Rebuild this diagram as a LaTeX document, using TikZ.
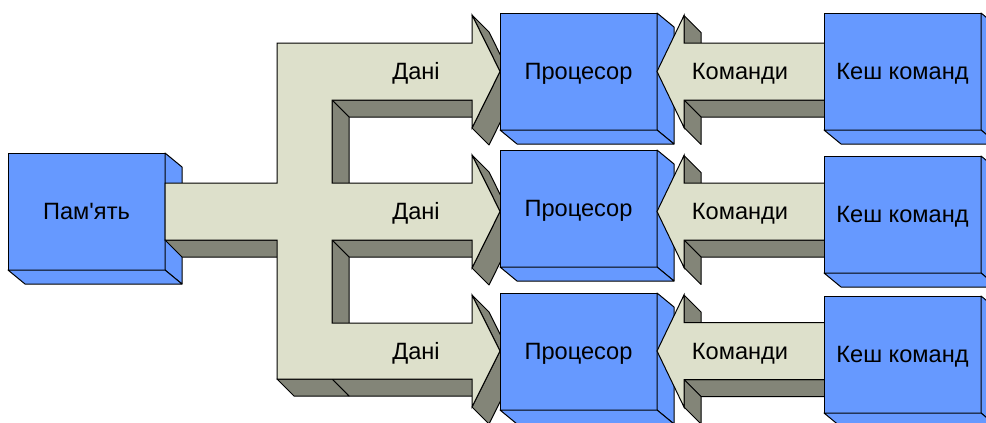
\documentclass[tikz,border=0pt]{standalone}
\usepackage{fontspec}
\setmainfont{Liberation Sans}
\usetikzlibrary{calc}
\definecolor{boxblue}{RGB}{102,153,255}
\definecolor{pipelight}{RGB}{221,224,203}
\definecolor{pipedark}{RGB}{131,133,120}
\tikzset{
  unitbox/.style={draw=black, fill=boxblue, line width=0.5pt,
    inner sep=0pt, outer sep=0pt,
    minimum width=78.5pt, minimum height=58.5pt,
    text height=8.45pt, text depth=0pt,
    font=\fontsize{11.8}{14}\selectfont},
  boxside/.style={draw=black, fill=boxblue, line width=0.5pt, line join=round},
  pipe/.style={draw=black, fill=pipelight, line width=0.5pt},
  pipeshade/.style={draw=black, fill=pipedark, line width=0.5pt, line join=round},
  lbl/.style={inner sep=0pt, text height=8.45pt, text depth=0pt,
    font=\fontsize{11.8}{14}\selectfont},
}
% right and bottom faces of a block
\newcommand{\boxsides}[1]{%
  \filldraw[boxside] (#1.north east) -- ++(17,14)
    -- ([shift={(17,14)}]#1.south east) -- (#1.south east) -- cycle;
  \filldraw[boxside] (#1.south west) -- ++(17,14)
    -- ([shift={(17,14)}]#1.south east) -- (#1.south east) -- cycle;
}

\begin{document}
\begin{tikzpicture}[x=0.5pt, y=-0.5pt]
  \useasboundingbox (0,0) rectangle (986,423);
  \clip (0,0) rectangle (986,423);

  % memory
  \node[unitbox] (mem) at (86.5,211.5) {Пам\textquotesingle ять};
  \boxsides{mem}

  % data pipes: stem, bar and three branches
  \foreach \x/\y [count=\i] in {165/183, 277/183, 277/43, 472/43, 472/15,
      500/71.5, 472/128, 472/100, 332/100, 332/183, 472/183, 472/155,
      500/211.5, 472/268, 472/240, 332/240, 332/323, 472/323, 472/295,
      500/351, 472/407, 472/379, 277/379, 277/240, 165/240, 332/379}
    \coordinate (p\i) at (\x,\y);
  \foreach \a/\b in {8/9, 9/10, 15/16, 16/17, 22/26, 26/23, 24/25,
      5/6, 6/7, 12/13, 13/14, 19/20, 20/21}
    \filldraw[pipeshade] (p\a) -- (p\b) -- ([shift={(17,17)}]p\b)
      -- ([shift={(17,17)}]p\a) -- cycle;
  \filldraw[pipe] (p1) \foreach \i in {2,...,25} { -- (p\i) } -- cycle;
  \foreach \c [count=\k] in {71.5,211.5,351}
    \node[lbl] (dat\k) at (416,\c) {Дані};

  % processors
  \foreach \c [count=\k] in {71.5,208.5,351.5} {
    \node[unitbox] (cpu\k) at (578.5,\c) {Процесор};
    \boxsides{cpu\k}
  }

  % command pipes
  \foreach \c [count=\k] in {71.5,211.5,351} {
    \filldraw[pipeshade] (825,\c+28.5) -- (684,\c+28.5) -- (701,\c+45.5)
      -- (842,\c+45.5) -- cycle;
    \filldraw[pipeshade] (684,\c+28.5) -- (684,\c+56) -- (701,\c+73)
      -- (701,\c+45.5) -- cycle;
    \filldraw[pipeshade] (684,\c-56) -- (684,\c-28.5) -- (701,\c-11.5)
      -- (701,\c-39) -- cycle;
    \filldraw[pipe] (657,\c) -- (684,\c-56) -- (684,\c-28.5) -- (825,\c-28.5)
      -- (825,\c+28.5) -- (684,\c+28.5) -- (684,\c+56) -- cycle;
    \node[lbl] (cmd\k) at (740,\c) {Команди};
  }

  % instruction caches
  \foreach \c [count=\k] in {71.5,214.5,354.5} {
    \node[unitbox] (ic\k) at (902.5,\c) {Кеш команд};
    \boxsides{ic\k}
  }
\end{tikzpicture}
\end{document}
